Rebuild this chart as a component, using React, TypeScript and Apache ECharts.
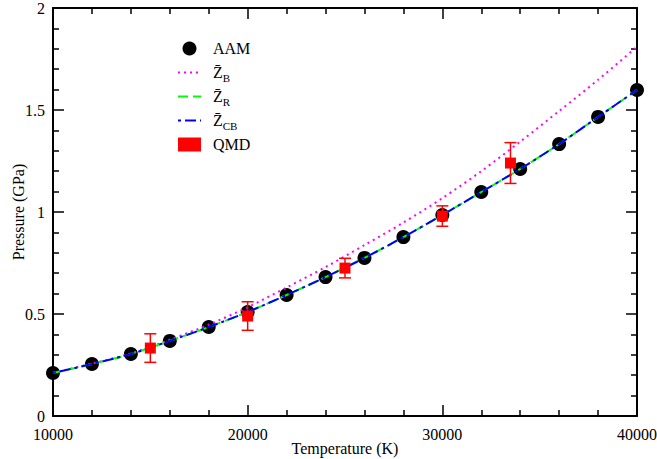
import React, { useEffect, useRef } from "react";
import * as echarts from "echarts";

const TEMPS = [10000, 12000, 14000, 16000, 18000, 20000, 22000, 24000, 26000, 28000, 30000, 32000, 34000, 36000, 38000, 40000];
const AAM = [0.211, 0.255, 0.304, 0.368, 0.436, 0.51, 0.593, 0.681, 0.775, 0.877, 0.985, 1.098, 1.211, 1.333, 1.466, 1.598];
const ZB = [0.212, 0.257, 0.307, 0.374, 0.448, 0.533, 0.63, 0.73, 0.838, 0.948, 1.068, 1.2, 1.345, 1.495, 1.648, 1.81];
const ZR = [0.211, 0.255, 0.304, 0.368, 0.436, 0.51, 0.593, 0.681, 0.775, 0.877, 0.985, 1.098, 1.211, 1.333, 1.466, 1.598];
const ZCB = [0.211, 0.255, 0.304, 0.368, 0.436, 0.51, 0.593, 0.681, 0.775, 0.877, 0.985, 1.098, 1.211, 1.333, 1.466, 1.598];
const QMD_T = [15000, 20000, 25000, 30000, 33500];
const QMD_P = [0.333, 0.49, 0.725, 0.98, 1.24];
const QMD_ERR = [0.07, 0.07, 0.048, 0.05, 0.1];

const FONT = "Liberation Serif";

const pairs = (ys: number[]) => TEMPS.map((t, i) => [t, ys[i]]);

export default function App() {
  const ref = useRef<HTMLDivElement>(null);
  useEffect(() => {
    if (!ref.current) return;
    const chart = echarts.init(ref.current, undefined, { renderer: "svg" });
    const axisCommon = {
      axisLine: { show: true, onZero: false, lineStyle: { color: "#000", width: 2 } },
      axisTick: { show: true, inside: true, length: 11, lineStyle: { color: "#000", width: 1.5 } },
      minorTick: { show: true, splitNumber: 5, length: 6, lineStyle: { color: "#000", width: 1.5 } },
      splitLine: { show: false },
      minorSplitLine: { show: false },
    };
    const xBase = { type: "value", min: 10000, max: 40000, interval: 10000, ...axisCommon };
    const yBase = { type: "value", min: 0, max: 2, interval: 0.5, ...axisCommon };
    const richText = {
      m: { fontFamily: FONT, fontSize: 16, lineHeight: 18, color: "#000" },
      s: { fontFamily: FONT, fontSize: 11, lineHeight: 18, padding: [10, 0, 0, 0], color: "#000" },
    };
    const legendNames: Record<string, string> = {
      AAM: "{m|AAM}{s| }",
      ZB: "{m|Z\u0304}{s|B}",
      ZR: "{m|Z\u0304}{s|R}",
      ZCB: "{m|Z\u0304}{s|CB}",
      QMD: "{m|QMD}{s| }",
    };
    const hideSym = { opacity: 0 };
    chart.setOption({
      animation: false,
      backgroundColor: "#fff",
      textStyle: { fontFamily: FONT },
      grid: { left: 53, right: 20, top: 8, bottom: 43, containLabel: false, outerBoundsMode: "none" },
      legend: {
        orient: "vertical",
        left: 177,
        top: 38,
        padding: 0,
        itemWidth: 23,
        itemHeight: 14,
        itemGap: 3,
        data: [
          { name: "AAM" },
          { name: "ZB", itemStyle: hideSym },
          { name: "ZR", itemStyle: hideSym },
          { name: "ZCB", itemStyle: hideSym },
          { name: "QMD" },
        ],
        formatter: (n: string) => legendNames[n] || n,
        textStyle: { fontFamily: FONT, fontSize: 16, lineHeight: 18, color: "#000", padding: [0, 0, 0, 7], rich: richText },
      },
      xAxis: [
        {
          ...xBase,
          position: "bottom",
          name: "Temperature (K)",
          nameLocation: "middle",
          nameGap: 24,
          nameMoveOverlap: false,
          nameTextStyle: { fontFamily: FONT, fontSize: 16, color: "#000" },
          axisLabel: { show: true, margin: 10, fontFamily: FONT, fontSize: 16, color: "#000", formatter: (v: number) => String(v) },
        },
        { ...xBase, position: "top", axisLabel: { show: false } },
      ],
      yAxis: [
        {
          ...yBase,
          position: "left",
          name: "Pressure (GPa)",
          nameLocation: "middle",
          nameGap: 27,
          nameRotate: 90,
          nameMoveOverlap: false,
          nameTextStyle: { fontFamily: FONT, fontSize: 16, color: "#000" },
          axisLabel: { show: true, margin: 8, fontFamily: FONT, fontSize: 16, color: "#000", formatter: (v: number) => String(v) },
        },
        { ...yBase, position: "right", axisLabel: { show: false } },
      ],
      series: [
        {
          name: "AAM",
          type: "scatter",
          data: pairs(AAM),
          symbol: "circle",
          symbolSize: 14,
          itemStyle: { color: "#000", opacity: 1 },
          z: 2,
        },
        {
          name: "ZB",
          type: "line",
          data: pairs(ZB),
          symbol: "none",
          smooth: 0.3,
          lineStyle: { color: "#ff00ff", width: 2, type: [2, 4] },
          itemStyle: { color: "#ff00ff" },
          z: 3,
        },
        {
          name: "ZR",
          type: "line",
          data: pairs(ZR),
          symbol: "none",
          smooth: 0.3,
          lineStyle: { color: "#00ff00", width: 2, type: [10, 5] },
          itemStyle: { color: "#00ff00" },
          z: 4,
        },
        {
          name: "ZCB",
          type: "line",
          data: pairs(ZCB),
          symbol: "none",
          smooth: 0.3,
          lineStyle: { color: "#0000ff", width: 2, type: [3, 4, 11, 4] },
          itemStyle: { color: "#0000ff" },
          z: 5,
        },
        {
          name: "QMDerr",
          type: "custom",
          data: QMD_T.map((t, i) => [t, QMD_P[i], QMD_ERR[i]]),
          encode: { x: 0, y: 1 },
          z: 6,
          renderItem: (params: any, api: any) => {
            const x = api.value(0);
            const y = api.value(1);
            const e = api.value(2);
            const top = api.coord([x, y + e]);
            const bot = api.coord([x, y - e]);
            const hw = 6;
            const st = { stroke: "#ff0000", lineWidth: 1.5 };
            return {
              type: "group",
              children: [
                { type: "line", shape: { x1: top[0], y1: top[1], x2: bot[0], y2: bot[1] }, style: st },
                { type: "line", shape: { x1: top[0] - hw, y1: top[1], x2: top[0] + hw, y2: top[1] }, style: st },
                { type: "line", shape: { x1: bot[0] - hw, y1: bot[1], x2: bot[0] + hw, y2: bot[1] }, style: st },
              ],
            };
          },
        },
        {
          name: "QMD",
          type: "scatter",
          data: QMD_T.map((t, i) => [t, QMD_P[i]]),
          symbol: "rect",
          symbolSize: 11,
          itemStyle: { color: "#ff0000", opacity: 1 },
          z: 7,
        },
      ],
    });
    return () => chart.dispose();
  }, []);
  return <div ref={ref} style={{ position: "fixed", left: 0, top: 0, width: 657, height: 459 }} />;
}
